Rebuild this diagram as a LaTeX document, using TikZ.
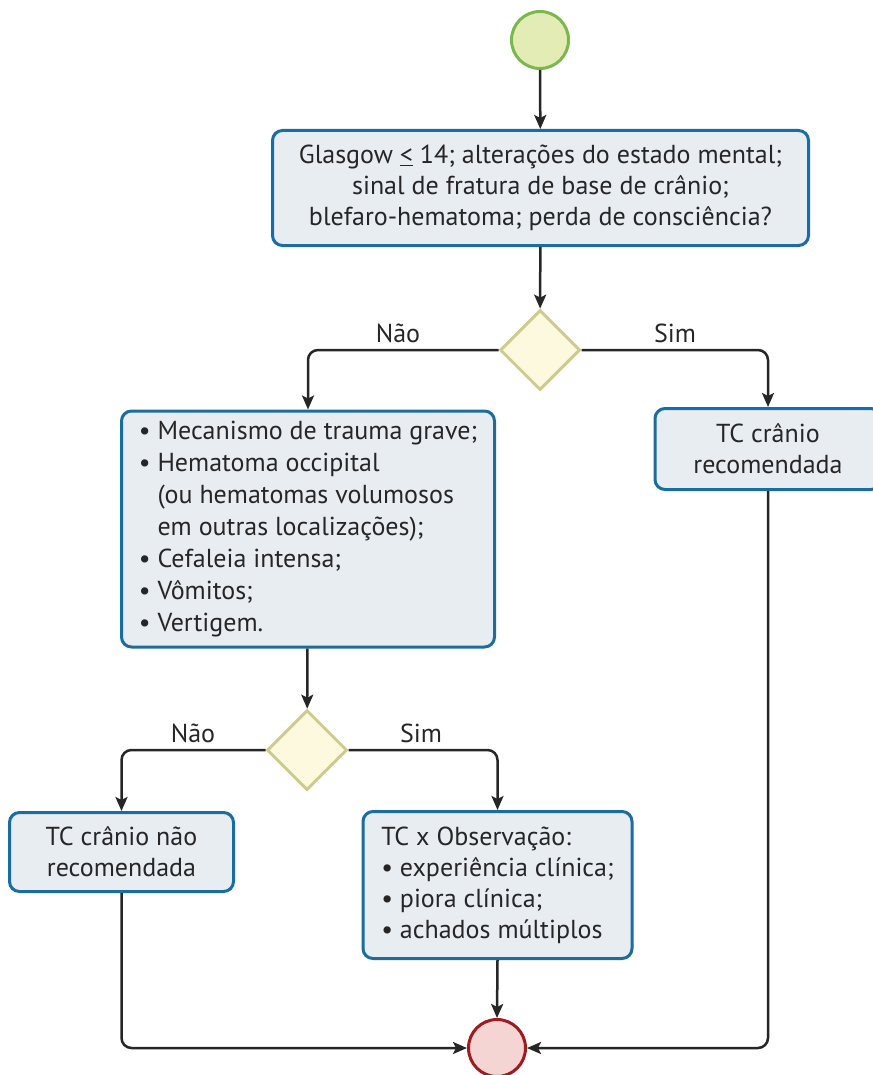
\documentclass[tikz,border=0pt]{standalone}
\usepackage{fontspec}
\setmainfont{PT Sans}
\usetikzlibrary{arrows.meta,shapes.geometric}

\definecolor{boxfill}{HTML}{E8EDF2}
\definecolor{boxline}{HTML}{1B6CA2}
\definecolor{decfill}{HTML}{FDF9DF}
\definecolor{decline}{HTML}{CFCB8E}
\definecolor{startfill}{HTML}{E4ECB5}
\definecolor{startline}{HTML}{7AB74F}
\definecolor{endfill}{HTML}{F5D5D3}
\definecolor{endline}{HTML}{A01B1E}
\definecolor{ink}{HTML}{262626}

\begin{document}
\begin{tikzpicture}[x=1pt,y=-1pt,
  every node/.style={font=\fontsize{26}{31}\selectfont, text=ink},
  procbox/.style={draw=boxline, fill=boxfill, line width=3pt, rounded corners=10pt,
    inner sep=0pt, align=center},
  decision/.style={diamond, draw=decline, fill=decfill, line width=3pt,
    minimum width=80pt, minimum height=80pt, inner sep=0pt},
  startnode/.style={circle, draw=startline, fill=startfill, line width=3pt,
    minimum size=57pt, inner sep=0pt},
  endnode/.style={circle, draw=endline, fill=endfill, line width=3pt,
    minimum size=57pt, inner sep=0pt},
  flow/.style={draw=ink, line width=2.5pt, rounded corners=10pt,
    -{Stealth[length=14pt,width=12pt,inset=3pt]}},
  branch/.style={inner sep=0pt}
]
\useasboundingbox (0,0) rectangle (872,1075);

% start and end
\node[startnode] (start) at (540,40) {};
\node[endnode] (stop) at (497,1048) {};

% first question
\node[procbox, minimum width=536pt, minimum height=115pt] (q1) at (540.5,188)
  {Glasgow \underline{<} 14; alterações do estado mental;\\
   sinal de fratura de base de crânio;\\
   blefaro-hematoma; perda de consciência?};
\node[decision] (d1) at (540,350) {};

% second level
\node[procbox, minimum width=373pt, minimum height=236pt, align=left,
  font=\fontsize{26}{32}\selectfont]
  (q2) at (308,529)
  {• Mecanismo de trauma grave;\\
   • Hematoma occipital\\
   \hphantom{• }(ou hematomas volumosos\\
   \hphantom{• }em outras localizações);\\
   • Cefaleia intensa;\\
   • Vômitos;\\
   • Vertigem.};
\node[procbox, minimum width=226pt, minimum height=81pt] (ctyes) at (768,449)
  {TC crânio\\recomendada};
\node[decision] (d2) at (307,750) {};

% third level
\node[procbox, minimum width=224pt, minimum height=79pt] (ctno) at (121.5,852)
  {TC crânio não\\recomendada};
\node[procbox, minimum width=269pt, minimum height=147pt, align=left]
  (obs) at (497.5,885)
  {TC x Observação:\\
   • experiência clínica;\\
   • piora clínica;\\
   • achados múltiplos};

% branch labels
\node[branch] (n1) at (398,333) {Não};
\node[branch] (s1) at (675,333) {Sim};
\node[branch] (n2) at (193,733) {Não};
\node[branch] (s2) at (421,733) {Sim};

% connectors
\draw[flow] (start) -- (q1);
\draw[flow] (q1) -- (d1);
\draw[flow] (d1.west) -| (q2.north);
\draw[flow] (d1.east) -| (ctyes.north);
\draw[flow] (q2) -- (d2);
\draw[flow] (d2.west) -| (ctno.north);
\draw[flow] (d2.east) -| (obs.north);
\draw[flow] (obs.south) -- (stop.north);
\draw[flow] (ctno.south) |- (stop.west);
\draw[flow] (ctyes.south) |- (stop.east);
\end{tikzpicture}
\end{document}
